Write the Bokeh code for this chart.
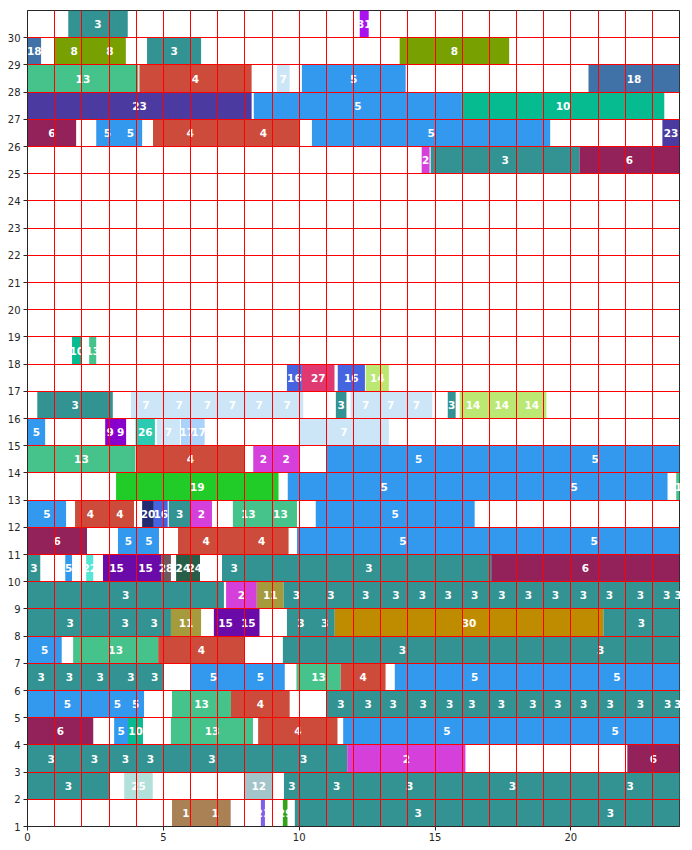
from bokeh.plotting import figure
from bokeh.models import ColumnDataSource, FixedTicker, Range1d
from bokeh.embed import file_html
from bokeh.resources import INLINE
from bokeh.core.properties import value

# job id -> colour
job_colors = {
    1: "#a98155", 2: "#d53fda", 3: "#339393", 4: "#cc4b3a", 5: "#3399ee",
    6: "#93215a", 7: "#cce6f8", 8: "#78a000", 9: "#8800cc", 10: "#05bb8f",
    11: "#a59a3c", 12: "#a3c4c9", 13: "#45c38b", 14: "#bae872", 15: "#6a0aa8",
    16: "#4564e0", 17: "#aad2fa", 18: "#4072a8", 19: "#22cc28", 20: "#222a72",
    21: "#8060e8", 22: "#55e6d6", 23: "#4b3aa0", 24: "#285e48", 25: "#b2e0da",
    26: "#2ccab0", 27: "#e03870", 28: "#6e5a5e", 29: "#33a31a", 30: "#bf8c00",
    31: "#aa11ee",
}

# each row: (start, end, job)
row30 = [(1.50, 3.69, 3), (12.23, 12.56, 31)]
row29 = [(0.0, 0.50, 18), (0.99, 2.45, 8), (2.45, 3.62, 8), (4.40, 6.39, 3), (13.70, 17.73, 8)]
row28 = [(0.0, 4.08, 13), (4.12, 8.25, 4), (9.18, 9.65, 7), (10.10, 13.92, 5), (20.65, 24.0, 18)]
row27 = [(0.0, 8.25, 23), (8.33, 15.99, 5), (15.99, 23.44, 10)]
row26 = [(0.0, 1.79, 6), (2.53, 3.35, 5), (3.35, 4.22, 5), (4.62, 7.36, 4), (7.36, 10.0, 4),
         (10.47, 19.24, 5), (23.37, 24.0, 23)]
row25 = [(14.51, 14.80, 2), (14.84, 20.32, 3), (20.32, 24.0, 6)]
row18 = [(1.64, 1.99, 10), (2.27, 2.53, 13)]
row17 = [(9.55, 10.10, 16), (10.10, 11.30, 27), (11.42, 12.42, 16), (12.45, 13.30, 14)]
row16 = [(0.36, 3.14, 3), (3.81, 4.91, 7), (4.91, 6.25, 7), (6.25, 6.99, 7), (6.99, 8.09, 7),
         (8.09, 8.97, 7), (8.97, 10.15, 7), (11.35, 11.74, 3), (11.89, 13.0, 7), (13.0, 13.74, 7),
         (13.74, 14.9, 7), (15.47, 15.76, 3), (15.91, 16.89, 14), (16.89, 18.03, 14), (18.03, 19.1, 14)]
row15 = [(0.0, 0.65, 5), (2.86, 3.22, 9), (3.22, 3.63, 9), (3.98, 4.69, 26), (4.76, 5.61, 7),
         (5.65, 6.07, 17), (6.07, 6.52, 17), (10.0, 13.3, 7)]
row14 = [(0.0, 3.97, 13), (3.99, 8.0, 4), (8.31, 9.05, 2), (9.05, 10.0, 2), (11.01, 17.79, 5),
         (17.79, 24.0, 5)]
row13 = [(3.26, 9.24, 19), (9.58, 16.68, 5), (16.68, 23.56, 5), (23.88, 24.3, 13)]
row12 = [(0.0, 1.42, 5), (1.75, 2.89, 4), (2.89, 3.92, 4), (4.22, 4.65, 20), (4.65, 5.16, 16),
         (5.20, 6.01, 3), (6.01, 6.79, 2), (7.56, 8.70, 13), (8.70, 9.92, 13), (10.61, 16.46, 5)]
row11 = [(0.0, 2.19, 6), (3.33, 4.09, 5), (4.09, 4.84, 5), (5.54, 7.62, 4), (7.62, 9.61, 4),
         (9.92, 17.72, 5), (17.72, 24.0, 5)]
row10 = [(0.0, 0.47, 3), (1.39, 1.64, 5), (2.16, 2.42, 22), (2.78, 3.77, 15), (3.77, 4.92, 15),
         (4.92, 5.28, 28), (5.47, 5.97, 24), (5.97, 6.35, 24), (7.16, 8.06, 3), (8.06, 17.07, 3),
         (17.07, 24.0, 6)]
row9 = [(0.0, 7.23, 3), (7.31, 8.44, 2), (8.44, 9.43, 11), (9.43, 10.37, 3), (10.37, 11.97, 3),
        (11.97, 12.93, 3), (12.93, 14.19, 3), (14.19, 14.89, 3), (14.89, 16.07, 3), (16.07, 16.85, 3),
        (16.85, 18.07, 3), (18.07, 18.81, 3), (18.81, 20.05, 3), (20.05, 20.87, 3), (20.87, 21.97, 3),
        (21.97, 23.15, 3), (23.15, 23.9, 3), (23.9, 24.0, 3)]
row8 = [(0.0, 3.14, 3), (3.14, 4.04, 3), (4.04, 5.28, 3), (5.28, 6.39, 11), (6.86, 7.72, 15),
        (7.72, 8.54, 15), (9.55, 10.57, 3), (10.57, 11.31, 3), (11.31, 21.20, 30), (21.20, 24.0, 3)]
row7 = [(0.0, 1.26, 5), (1.68, 4.81, 13), (4.81, 8.0, 4), (9.40, 18.2, 3), (18.2, 24.0, 3)]
row6 = [(0.0, 1.0, 3), (1.0, 2.08, 3), (2.08, 3.26, 3), (3.26, 4.36, 3), (4.36, 5.0, 3),
        (6.0, 7.68, 5), (7.68, 9.47, 5), (9.90, 11.53, 13), (11.53, 13.18, 4), (13.52, 19.40, 5),
        (19.40, 24.0, 5)]
row5 = [(0.0, 2.94, 5), (2.94, 3.68, 5), (3.68, 4.29, 5), (5.32, 7.49, 13), (7.49, 9.65, 4),
        (11.01, 12.07, 3), (12.07, 13.01, 3), (13.01, 13.91, 3), (13.91, 15.21, 3), (15.21, 15.87, 3),
        (15.87, 16.85, 3), (16.85, 18.03, 3), (18.03, 19.17, 3), (19.17, 19.87, 3), (19.87, 21.07, 3),
        (21.07, 21.83, 3), (21.83, 23.29, 3), (23.29, 23.83, 3), (23.83, 24.05, 3)]
row4 = [(0.0, 2.42, 6), (3.19, 3.70, 5), (3.70, 4.25, 10), (5.28, 8.30, 13), (8.49, 11.41, 4),
        (11.62, 19.26, 5), (19.26, 24.0, 5)]
row3 = [(0.0, 1.74, 3), (1.74, 3.18, 3), (3.18, 4.02, 3), (4.02, 5.02, 3), (5.02, 8.56, 3),
        (8.56, 11.77, 3), (11.77, 16.12, 2), (22.08, 24.0, 6)]
row2 = [(0.0, 3.02, 3), (3.56, 4.61, 25), (7.99, 9.04, 12), (9.44, 10.02, 3), (10.02, 12.74, 3),
        (12.74, 15.40, 3), (15.40, 20.30, 3), (20.30, 24.06, 3)]
row1 = [(5.32, 6.34, 1), (6.34, 7.48, 1), (8.59, 8.74, 21), (9.40, 9.57, 29), (9.84, 18.92, 3),
        (18.92, 24.0, 3)]

rows = {30: row30, 29: row29, 28: row28, 27: row27, 26: row26, 25: row25, 18: row18,
        17: row17, 16: row16, 15: row15, 14: row14, 13: row13, 12: row12, 11: row11,
        10: row10, 9: row9, 8: row8, 7: row7, 6: row6, 5: row5, 4: row4, 3: row3,
        2: row2, 1: row1}

x_ticks = [0, 5, 10, 15, 20]
y_ticks = list(range(1, 31))

# labels: one per segment, at its centre
lab = dict(label=[], xc=[], yc=[])
# fills: touching segments of the same job drawn as one block (no seams)
blk = dict(left=[], right=[], bottom=[], top=[], color=[])
for r, segs in rows.items():
    prev = None
    for s, e, j in segs:
        lab["label"].append(str(j))
        lab["xc"].append((s + e) / 2)
        lab["yc"].append(r + 0.5)
        if prev is not None and prev[2] == j and abs(prev[1] - s) < 1e-9:
            blk["right"][-1] = e
        else:
            blk["left"].append(s)
            blk["right"].append(e)
            blk["bottom"].append(r)
            blk["top"].append(r + 1)
            blk["color"].append(job_colors[j])
        prev = (s, e, j)

p = figure(frame_width=652, frame_height=816,
           x_range=Range1d(0, 24), y_range=Range1d(1, 31),
           output_backend="svg", toolbar_location=None,
           min_border_left=27, min_border_right=13, min_border_top=10, min_border_bottom=24)

p.quad(left="left", right="right", bottom="bottom", top="top", source=ColumnDataSource(blk),
       fill_color="color", line_color=None)

p.xgrid.ticker = FixedTicker(ticks=list(range(0, 25)))
p.ygrid.ticker = FixedTicker(ticks=list(range(1, 32)))
for g in (p.xgrid, p.ygrid):
    g.grid_line_color = "red"
    g.grid_line_width = 1
    g.grid_line_alpha = 1.0
    g.level = "overlay"

t = p.text(x="xc", y="yc", text="label", source=ColumnDataSource(lab), text_color="white",
           text_font=value("DejaVu Sans"), text_font_size="10.5px", text_font_style="bold",
           text_align="center", text_baseline="middle")
t.level = "overlay"

p.xaxis.ticker = FixedTicker(ticks=x_ticks)
p.yaxis.ticker = FixedTicker(ticks=y_ticks)
for ax in (p.xaxis[0], p.yaxis[0]):
    ax.major_label_text_font = "DejaVu Sans"
    ax.major_label_text_font_size = "10px"
    ax.major_label_text_color = "#262626"
    ax.major_tick_in = 0
    ax.major_tick_out = 4
    ax.minor_tick_line_color = None
    ax.axis_line_color = "#262626"
    ax.major_tick_line_color = "#262626"
p.xaxis.major_label_standoff = 2
p.yaxis.major_label_standoff = 3

p.outline_line_color = "#262626"
p.outline_line_width = 1
p.background_fill_color = "white"
p.border_fill_color = "white"

open("out.html", "w").write(file_html(p, INLINE))
